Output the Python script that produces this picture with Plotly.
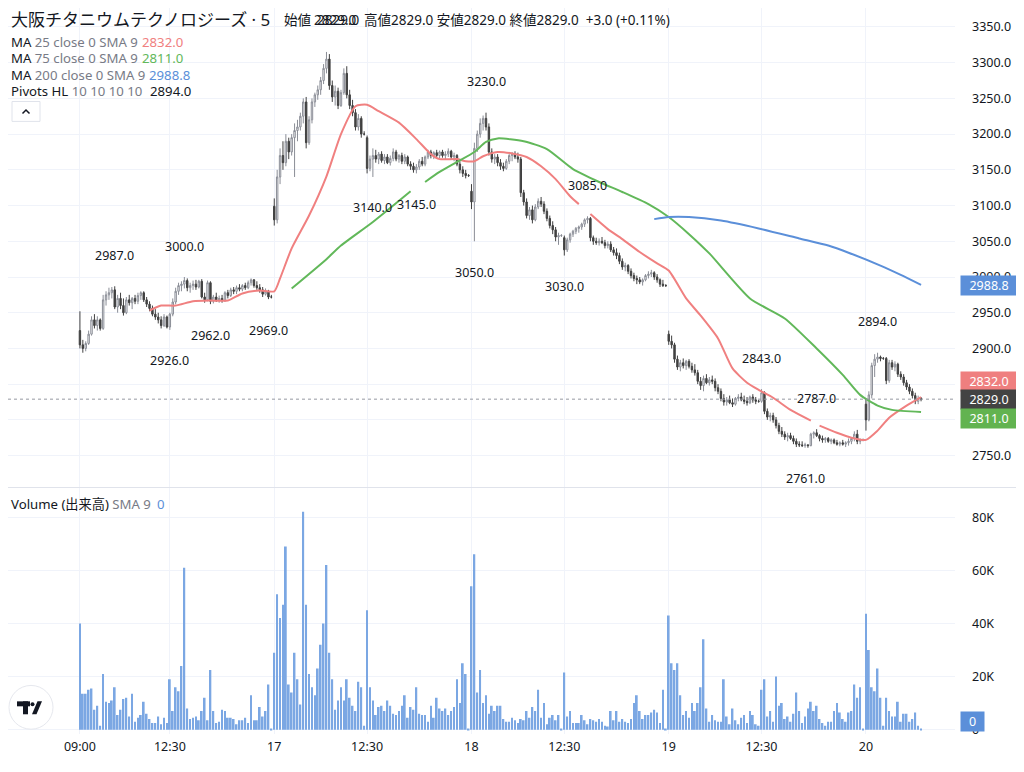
import plotly.graph_objects as go

# 5 minute bars, one list per trading day: (open, high, low, close)
day16 = [
    (2925, 2952, 2900, 2905), (2905, 2912, 2894, 2900), (2900, 2910, 2896, 2907), (2907, 2925, 2905, 2920),
    (2920, 2945, 2918, 2940), (2940, 2948, 2928, 2932), (2932, 2945, 2925, 2940), (2940, 2942, 2925, 2928),
    (2928, 2975, 2926, 2968), (2968, 2980, 2960, 2975), (2975, 2985, 2968, 2978), (2978, 2986, 2970, 2982),
    (2982, 2987, 2955, 2958), (2958, 2975, 2950, 2970), (2970, 2978, 2955, 2960), (2960, 2970, 2946, 2950),
    (2950, 2972, 2948, 2968), (2968, 2975, 2960, 2964), (2964, 2972, 2955, 2970), (2970, 2975, 2962, 2966),
    (2966, 2978, 2962, 2974), (2974, 2980, 2968, 2978), (2978, 2980, 2965, 2968), (2968, 2972, 2958, 2962),
    (2962, 2966, 2952, 2956), (2956, 2960, 2945, 2948), (2948, 2955, 2940, 2944), (2944, 2950, 2935, 2940),
    (2940, 2945, 2928, 2932), (2932, 2948, 2930, 2944), (2944, 2946, 2928, 2930), (2930, 2950, 2926, 2948),
    (2948, 2970, 2945, 2965), (2965, 2985, 2962, 2980), (2980, 2992, 2975, 2988), (2988, 2994, 2980, 2990),
    (2990, 3000, 2984, 2995), (2995, 2998, 2980, 2985), (2985, 2992, 2978, 2988), (2988, 2995, 2982, 2990),
    (2990, 2996, 2982, 2986), (2986, 2996, 2984, 2994), (2994, 2997, 2970, 2972), (2972, 2978, 2964, 2968),
    (2968, 2995, 2966, 2992), (2992, 2994, 2962, 2966), (2966, 2975, 2963, 2972), (2972, 2978, 2965, 2968),
    (2968, 2974, 2964, 2970), (2970, 2975, 2964, 2967), (2967, 2980, 2965, 2978), (2978, 2982, 2970, 2974),
    (2974, 2985, 2972, 2982), (2982, 2986, 2976, 2980), (2980, 2988, 2976, 2985), (2985, 2990, 2980, 2983),
    (2983, 2990, 2980, 2988), (2988, 2992, 2982, 2985), (2985, 2995, 2983, 2992), (2992, 2998, 2988, 2996),
    (2996, 2997, 2985, 2988), (2988, 2994, 2982, 2985), (2985, 2990, 2978, 2982), (2982, 2986, 2972, 2976),
    (2976, 2984, 2974, 2980), (2980, 2982, 2969, 2972), (2972, 2975, 2970, 2972),
]
day17 = [
    (3099, 3110, 3072, 3080), (3080, 3150, 3075, 3140), (3140, 3180, 3130, 3170), (3170, 3190, 3150, 3160),
    (3160, 3200, 3155, 3190), (3190, 3195, 3165, 3175), (3175, 3200, 3170, 3195), (3195, 3215, 3140, 3205),
    (3205, 3220, 3190, 3210), (3210, 3230, 3205, 3225), (3225, 3250, 3215, 3245), (3245, 3252, 3180, 3188),
    (3188, 3225, 3185, 3220), (3220, 3250, 3215, 3245), (3245, 3258, 3238, 3255), (3255, 3268, 3248, 3262),
    (3262, 3280, 3255, 3275), (3275, 3298, 3270, 3292), (3292, 3315, 3285, 3305), (3305, 3312, 3262, 3268),
    (3268, 3275, 3245, 3252), (3252, 3268, 3240, 3260), (3260, 3265, 3235, 3240), (3240, 3262, 3238, 3258),
    (3258, 3292, 3255, 3285), (3285, 3295, 3250, 3255), (3255, 3262, 3235, 3240), (3240, 3248, 3225, 3230),
    (3230, 3235, 3205, 3210), (3210, 3228, 3205, 3222), (3222, 3225, 3195, 3200), (3200, 3204, 3198, 3200),
    (3195, 3198, 3145, 3152), (3152, 3170, 3148, 3165), (3165, 3180, 3140, 3170), (3170, 3178, 3160, 3165),
    (3165, 3175, 3158, 3172), (3172, 3176, 3160, 3163), (3163, 3172, 3158, 3168), (3168, 3172, 3158, 3160),
    (3160, 3170, 3156, 3166), (3166, 3180, 3162, 3175), (3175, 3178, 3162, 3165), (3165, 3172, 3160, 3170),
    (3170, 3174, 3158, 3162), (3162, 3172, 3158, 3168), (3168, 3170, 3155, 3158), (3158, 3162, 3150, 3155),
    (3155, 3160, 3146, 3150), (3150, 3158, 3145, 3154), (3154, 3165, 3150, 3162), (3162, 3168, 3155, 3158),
    (3158, 3170, 3155, 3168), (3168, 3178, 3165, 3175), (3175, 3178, 3166, 3170), (3170, 3176, 3165, 3174),
    (3174, 3178, 3168, 3170), (3170, 3177, 3166, 3175), (3175, 3178, 3167, 3170), (3170, 3176, 3164, 3172),
    (3172, 3180, 3168, 3176), (3176, 3178, 3165, 3168), (3168, 3174, 3162, 3170), (3170, 3172, 3155, 3158),
    (3158, 3162, 3145, 3150), (3150, 3155, 3140, 3145), (3145, 3150, 3138, 3142), (3142, 3144, 3140, 3142),
]
day18 = [
    (3120, 3130, 3095, 3105), (3105, 3188, 3050, 3180), (3180, 3205, 3175, 3200), (3200, 3222, 3195, 3215),
    (3215, 3226, 3205, 3222), (3222, 3230, 3205, 3210), (3210, 3215, 3170, 3175), (3175, 3180, 3160, 3165),
    (3165, 3172, 3158, 3168), (3168, 3172, 3155, 3160), (3160, 3165, 3150, 3155), (3155, 3160, 3148, 3152),
    (3152, 3165, 3150, 3162), (3162, 3172, 3158, 3170), (3170, 3175, 3162, 3172), (3172, 3176, 3165, 3168),
    (3168, 3174, 3160, 3165), (3165, 3168, 3112, 3118), (3118, 3122, 3100, 3105), (3105, 3110, 3082, 3086),
    (3086, 3098, 3080, 3094), (3094, 3100, 3075, 3080), (3080, 3102, 3078, 3098), (3098, 3110, 3095, 3106),
    (3106, 3112, 3098, 3102), (3102, 3106, 3088, 3092), (3092, 3096, 3078, 3082), (3082, 3086, 3068, 3072),
    (3072, 3078, 3060, 3066), (3066, 3070, 3050, 3056), (3056, 3062, 3045, 3058), (3058, 3060, 3056, 3058),
    (3055, 3058, 3030, 3038), (3038, 3055, 3035, 3052), (3052, 3062, 3048, 3060), (3060, 3066, 3056, 3064),
    (3064, 3070, 3060, 3068), (3068, 3072, 3062, 3070), (3070, 3076, 3066, 3074), (3074, 3082, 3070, 3080),
    (3080, 3085, 3075, 3082), (3082, 3084, 3050, 3055), (3055, 3058, 3045, 3050), (3050, 3055, 3045, 3048),
    (3048, 3054, 3044, 3050), (3050, 3056, 3046, 3048), (3048, 3052, 3040, 3044), (3044, 3050, 3040, 3046),
    (3046, 3050, 3035, 3038), (3038, 3042, 3030, 3034), (3034, 3040, 3025, 3030), (3030, 3034, 3018, 3022),
    (3022, 3026, 3010, 3014), (3014, 3020, 3008, 3016), (3016, 3018, 3004, 3008), (3008, 3012, 2998, 3002),
    (3002, 3006, 2994, 2998), (2998, 3002, 2990, 2996), (2996, 3000, 2990, 2993), (2993, 2998, 2988, 2996),
    (2996, 3004, 2994, 3002), (3002, 3008, 2998, 3004), (3004, 3010, 3000, 3006), (3006, 3008, 2996, 3000),
    (3000, 3004, 2992, 2996), (2996, 2998, 2986, 2990), (2990, 2996, 2986, 2988), (2988, 2990, 2986, 2988),
]
day19 = [
    (2920, 2925, 2905, 2910), (2910, 2918, 2900, 2905), (2905, 2908, 2880, 2885), (2885, 2890, 2870, 2874),
    (2874, 2884, 2868, 2880), (2880, 2886, 2872, 2876), (2876, 2884, 2870, 2882), (2882, 2885, 2872, 2875),
    (2875, 2880, 2866, 2870), (2870, 2878, 2862, 2866), (2866, 2870, 2850, 2854), (2854, 2860, 2842, 2848),
    (2848, 2862, 2840, 2858), (2858, 2864, 2850, 2852), (2852, 2860, 2848, 2856), (2856, 2862, 2850, 2854),
    (2854, 2858, 2840, 2845), (2845, 2850, 2836, 2840), (2840, 2844, 2826, 2830), (2830, 2836, 2820, 2825),
    (2825, 2832, 2820, 2828), (2828, 2834, 2822, 2824), (2824, 2830, 2818, 2822), (2822, 2832, 2820, 2830),
    (2830, 2836, 2826, 2832), (2832, 2838, 2826, 2828), (2828, 2834, 2822, 2826), (2826, 2832, 2820, 2824),
    (2824, 2834, 2822, 2832), (2832, 2836, 2824, 2828), (2828, 2832, 2822, 2826), (2826, 2828, 2824, 2826),
    (2826, 2843, 2824, 2838), (2838, 2840, 2808, 2812), (2812, 2816, 2800, 2804), (2804, 2810, 2798, 2806),
    (2806, 2810, 2796, 2800), (2800, 2804, 2788, 2792), (2792, 2796, 2780, 2784), (2784, 2790, 2776, 2780),
    (2780, 2784, 2772, 2776), (2776, 2782, 2770, 2778), (2778, 2782, 2772, 2774), (2774, 2778, 2766, 2770),
    (2770, 2774, 2762, 2766), (2766, 2770, 2762, 2765), (2765, 2770, 2762, 2764), (2764, 2768, 2761, 2765),
    (2765, 2766, 2761, 2764), (2764, 2782, 2763, 2780), (2780, 2784, 2774, 2782), (2782, 2787, 2776, 2778),
    (2778, 2780, 2770, 2774), (2774, 2778, 2768, 2772), (2772, 2776, 2768, 2774), (2774, 2776, 2768, 2770),
    (2770, 2774, 2766, 2772), (2772, 2774, 2766, 2768), (2768, 2772, 2764, 2766), (2766, 2770, 2763, 2768),
    (2768, 2772, 2764, 2766), (2766, 2770, 2762, 2768), (2768, 2774, 2764, 2770), (2770, 2776, 2766, 2774),
    (2774, 2784, 2770, 2780), (2780, 2786, 2766, 2770), (2770, 2774, 2766, 2772), (2772, 2774, 2770, 2772),
]
day20 = [
    (2822, 2830, 2785, 2800), (2800, 2840, 2798, 2835), (2835, 2880, 2830, 2876), (2876, 2892, 2860, 2885),
    (2885, 2894, 2880, 2888), (2888, 2890, 2882, 2886), (2886, 2888, 2884, 2886), (2886, 2888, 2850, 2855),
    (2855, 2884, 2852, 2880), (2880, 2884, 2870, 2874), (2874, 2882, 2868, 2878), (2878, 2880, 2860, 2864),
    (2864, 2868, 2856, 2860), (2860, 2864, 2848, 2852), (2852, 2856, 2842, 2846), (2846, 2850, 2836, 2840),
    (2840, 2844, 2830, 2834), (2834, 2838, 2822, 2826), (2826, 2834, 2822, 2830), (2830, 2832, 2826, 2829),
]

# volume per bar, thousands of shares
vol16 = [40, 13.5, 13.5, 15, 15.5, 7.5, 9, 1.5, 21, 10.5, 10, 11, 16, 5.5, 7.5, 11.5, 12, 5, 13.5, 3,
         4.5, 5.5, 10.5, 6, 4, 2.5, 2.5, 5, 2, 4.5, 2.5, 19, 7, 16, 14.5, 24, 61, 8, 4, 4.5,
         5, 3.5, 7, 12, 3.5, 22.5, 7, 2.5, 3, 7.5, 7, 4.5, 4.5, 4, 2, 3.5, 3.5, 4.5, 2.5, 13,
         3.5, 3.5, 8.5, 5, 7, 17, 0.3]
vol17 = [29, 51, 42, 47, 69, 17, 14, 29, 19, 9.5, 82, 47, 21, 16, 13, 23, 32, 40, 62, 29,
         19, 7.5, 11, 16, 11, 19, 12, 9, 7, 18, 16, 1.5, 45, 16, 11, 5.5, 8.5, 9, 7, 11,
         9, 6, 5.5, 7, 9, 13, 4.5, 8.5, 7.5, 16, 6, 5.5, 5.5, 3, 9, 4.5, 12, 8, 7, 8,
         5.5, 7, 8.5, 19, 10, 25, 21, 0.3]
vol18 = [54, 66, 14, 22.5, 10, 13, 6, 9, 7, 9, 9, 4, 3, 3, 4.5, 3.5, 2.5, 4, 3.5, 7,
         4.5, 8.5, 7, 15, 4.5, 10, 2, 4.5, 5.5, 3.5, 5.5, 0.3, 21.5, 5, 7, 2.5, 2.5, 2.5, 5.5, 3.5,
         2, 4, 3.5, 3, 4, 3, 1.5, 1.2, 7, 3.5, 7, 3, 4, 3, 2.5, 4, 10, 13, 7, 4,
         5.5, 5.5, 6.5, 7.5, 6.5, 2.5, 15, 0.3]
vol19 = [43, 25, 22.5, 25, 13, 5.5, 7, 4.5, 10, 7, 10, 16, 34, 8, 3, 5.5, 3.5, 3, 3, 19,
         5, 2, 8, 3.5, 2, 4.5, 5.5, 2.5, 7, 5.5, 2, 1.5, 15, 19, 5, 7, 3, 20, 9, 10,
         4, 5, 3, 6, 14, 7, 2.5, 5, 8, 10.5, 7, 9, 4, 2.5, 1.5, 3, 3, 7, 10, 6.5,
         4, 3, 6.5, 7, 17, 12, 16, 0.3]
vol20 = [43.6, 30, 16, 14.5, 23, 12, 1.5, 12, 7, 5, 5, 10.5, 3, 6, 6, 3, 4, 6.5, 1.5, 0.3]

# moving averages as (bar, value); None = break in the line
ma25 = [(24, 2953), (28, 2960), (33, 2960), (39, 2966), (45, 2967), (51, 2967), (56, 2977), (62, 2981),
        (67, 2980), (69, 2998), (73, 3040), (79, 3086), (85, 3141), (90, 3200), (95, 3239), (99, 3241),
        (103, 3232), (110, 3216), (116, 3193), (121, 3172), (124, 3165), (130, 3165), (133, 3162),
        (136, 3162), (139, 3169), (144, 3175), (149, 3173), (154, 3168), (159, 3155), (164, 3137),
        (169, 3113), (172, 3102), (174, None), (176, 3088), (182, 3067), (187, 3053), (193, 3035),
        (199, 3019), (203, 3009), (209, 2970), (214, 2946), (220, 2914), (225, 2872), (230, 2852),
        (234, 2842), (239, 2831), (245, 2814), (252, 2799), (254, None), (255, 2792), (261, 2782),
        (266, 2775), (271, 2772), (275, 2785), (279, 2803), (285, 2820), (290, 2832)]
ma75 = [(73, 2984), (85, 3025), (90, 3044), (101, 3077), (114, 3120), (116, None), (119, 3133),
        (124, 3147), (130, 3161), (136, 3175), (140, 3189), (144, 3194), (153, 3190), (161, 3179),
        (170, 3151), (179, 3133), (187, 3119), (196, 3102), (203, 3084), (210, 3060), (217, 3033),
        (231, 2970), (243, 2942), (254, 2900), (263, 2863), (269, 2835), (275, 2820), (280, 2814),
        (290, 2811)]
ma200 = [(198, 3081), (203, 3084), (210, 3084), (221, 3079), (234, 3068), (248, 3054), (258, 3044),
         (265, 3034), (276, 3016), (283, 3003), (290, 2989)]

# pivot points: (bar, price, "H"/"L")
pivots = [(12, 2987, "H"), (36, 3000, "H"), (31, 2926, "L"), (45, 2962, "L"), (65, 2969, "L"),
          (140, 3230, "H"), (101, 3140, "L"), (116, 3145, "L"), (136, 3050, "L"), (175, 3085, "H"),
          (167, 3030, "L"), (235, 2843, "H"), (275, 2894, "H"), (254, 2787, "H"), (250, 2761, "L")]

time_ticks = [0, 31, 67, 99, 135, 167, 203, 235, 271]
time_labels = ["09:00", "12:30", "17", "12:30", "18", "12:30", "19", "12:30", "20"]
price_ticks = [2750, 2800, 2850, 2900, 2950, 3000, 3050, 3100, 3150, 3200, 3250, 3300, 3350]
vol_ticks = [0, 20000, 40000, 60000, 80000]
vol_labels = ["0", "20K", "40K", "60K", "80K"]

RED = "#f08080"
GREEN = "#62b85a"
BLUE = "#5b8fd9"
TXT = "#131722"
GREY = "#787b86"
GRID = "#f0f3fa"
FONT = "Noto Sans, Noto Sans CJK JP, sans-serif"

# the page puts the figure 8px in from the top-left corner
OFF = 8
W = 1024 - OFF
H = 772 - OFF

candles = day16 + day17 + day18 + day19 + day20
bars = list(range(len(candles)))
volumes = [v * 1000 for v in vol16 + vol17 + vol18 + vol19 + vol20]


def px(x):
    return (x - OFF) / W


def py(y):
    return 1 - (y - OFF) / H


fig = go.Figure()

fig.add_trace(go.Candlestick(
    x=bars,
    open=[c[0] for c in candles], high=[c[1] for c in candles],
    low=[c[2] for c in candles], close=[c[3] for c in candles],
    increasing=dict(line=dict(color="#8a8d96", width=1), fillcolor="#ffffff"),
    decreasing=dict(line=dict(color="#404040", width=1), fillcolor="#404040"),
    whiskerwidth=0, hoverinfo="skip", xaxis="x", yaxis="y",
))

for series, color in [(ma25, RED), (ma75, GREEN), (ma200, BLUE)]:
    fig.add_trace(go.Scatter(
        x=[p[0] for p in series], y=[p[1] for p in series],
        mode="lines", line=dict(color=color, width=2, shape="spline", smoothing=0.6),
        connectgaps=False, hoverinfo="skip", xaxis="x", yaxis="y",
    ))

fig.add_trace(go.Bar(
    x=bars, y=volumes, width=0.6, marker=dict(color="#7ba7e3", line=dict(width=0)),
    hoverinfo="skip", xaxis="x2", yaxis="y2",
))

annotations = []

# pivot labels above highs / below lows
for bar, price, kind in pivots:
    annotations.append(dict(
        x=bar, y=price, xref="x", yref="y", text=f"{price:.1f}", showarrow=False,
        yshift=31 if kind == "H" else -31, font=dict(size=12.5, color=TXT, family=FONT),
    ))


def label(x, y, text, size=13.2, color=TXT):
    annotations.append(dict(
        x=px(x), y=py(y), xref="paper", yref="paper", text=text, showarrow=False,
        xanchor="left", yanchor="middle", font=dict(size=size, color=color, family=FONT),
    ))


label(9, 20, "大阪チタニウムテクノロジーズ · 5", size=17)
label(282, 20, "始値", size=13.5)
label(312, 20, "2829.0", size=13.5)
label(315, 20, "2829.0", size=13.5)
label(362, 20, "高値2829.0 安値2829.0 終値2829.0  +3.0 (+0.11%)", size=13.5)

label(9, 42, f"MA <span style='color:{GREY}'>25 close 0 SMA 9</span>")
label(140, 42, "2832.0", color=RED)
label(9, 58, f"MA <span style='color:{GREY}'>75 close 0 SMA 9</span>")
label(140, 58, "2811.0", color=GREEN)
label(9, 75, f"MA <span style='color:{GREY}'>200 close 0 SMA 9</span>")
label(147, 75, "2988.8", color=BLUE)
label(9, 91, f"Pivots HL <span style='color:{GREY}'>10 10 10 10</span>")
label(148, 91, "2894.0")
label(9, 507, f"Volume (出来高) <span style='color:{GREY}'>SMA 9</span>")
label(155, 507, "0", color=BLUE)

# price badges on the right scale
for price, color, shift in [(2988.8, BLUE, 0), (2832.0, "#ef7f7f", 16), (2829.0, "#434343", 0), (2811.0, "#62b350", -6)]:
    annotations.append(dict(
        x=px(960), y=price, xref="paper", yref="y", text=f"{price:.1f}", showarrow=False,
        xanchor="left", yanchor="middle", yshift=shift, width=54, height=17, bgcolor=color,
        borderpad=1, font=dict(size=12.5, color="#ffffff", family=FONT),
    ))
annotations.append(dict(
    x=px(960), y=0, xref="paper", yref="y2", text="0", showarrow=False, xanchor="left",
    yanchor="middle", yshift=8, width=21, height=17, bgcolor=BLUE, borderpad=1,
    font=dict(size=12.5, color="#ffffff", family=FONT),
))

shapes = [
    # pane separator
    dict(type="line", xref="paper", yref="paper", x0=0, x1=1, y0=py(490), y1=py(490),
         line=dict(color="#e0e3eb", width=1)),
    # last price line
    dict(type="line", xref="paper", yref="y", x0=0, x1=px(955), y0=2829, y1=2829,
         line=dict(color="#9598a1", width=1, dash="dot")),
    # collapse button
    dict(type="rect", xref="paper", yref="paper", x0=px(12), x1=px(40), y0=py(122), y1=py(102),
         fillcolor="#ffffff", line=dict(color="#e0e3eb", width=1)),
    dict(type="path", xref="paper", yref="paper",
         path=f"M {px(22.5)} {py(114)} L {px(26)} {py(110.5)} L {px(29.5)} {py(114)}",
         line=dict(color=TXT, width=1.5)),
    # logo
    dict(type="circle", xref="paper", yref="paper", x0=px(9), x1=px(53), y0=py(733), y1=py(689),
         fillcolor="#ffffff", line=dict(color="#e6e8ee", width=1)),
    dict(type="rect", xref="paper", yref="paper", x0=px(17), x1=px(30), y0=py(710), y1=py(705),
         fillcolor="#131722", line=dict(width=0)),
    dict(type="rect", xref="paper", yref="paper", x0=px(23), x1=px(28), y0=py(718), y1=py(705),
         fillcolor="#131722", line=dict(width=0)),
    dict(type="circle", xref="paper", yref="paper", x0=px(30.5), x1=px(34.5), y0=py(710), y1=py(706),
         fillcolor="#131722", line=dict(width=0)),
    dict(type="path", xref="paper", yref="paper",
         path=f"M {px(32)} {py(718)} L {px(36.5)} {py(718)} L {px(42)} {py(705)} L {px(37.5)} {py(705)} Z",
         fillcolor="#131722", line=dict(width=0)),
]

axis_font = dict(size=12.5, color=TXT, family=FONT)

fig.update_layout(
    width=W, height=H, margin=dict(l=0, r=0, t=0, b=0),
    paper_bgcolor="#ffffff", plot_bgcolor="#ffffff",
    showlegend=False, hovermode=False,
    annotations=annotations, shapes=shapes,
    xaxis=dict(domain=[0, px(955)], range=[-24.8, 301.7], anchor="y",
               tickvals=time_ticks, showticklabels=False, showgrid=True, gridcolor=GRID,
               zeroline=False, showline=False, rangeslider=dict(visible=False), fixedrange=True),
    xaxis2=dict(domain=[0, px(955)], matches="x", anchor="y2",
                tickvals=time_ticks, ticktext=time_labels, showgrid=True, gridcolor=GRID,
                zeroline=False, showline=False, ticks="", tickfont=axis_font,
                ticklabelstandoff=3),
    yaxis=dict(domain=[py(490), py(8)], range=[2705.4, 3376.5], anchor="x", side="right",
               tickvals=price_ticks, ticktext=[f"{v:.1f}" for v in price_ticks],
               showgrid=True, gridcolor=GRID, zeroline=False, showline=False, ticks="",
               ticklabelstandoff=16, tickfont=axis_font),
    yaxis2=dict(domain=[py(738), py(491)], range=[-1700, 90800], anchor="x2", side="right",
                tickvals=vol_ticks, ticktext=vol_labels,
                showgrid=True, gridcolor=GRID, zeroline=False, showline=False, ticks="",
                ticklabelstandoff=16, tickfont=axis_font),
)

fig.write_html("out.html")
